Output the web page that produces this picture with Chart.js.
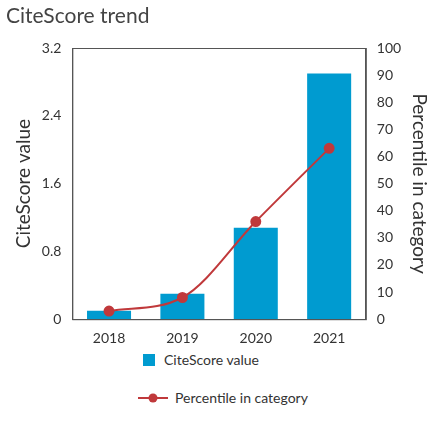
<!DOCTYPE html>
<html><head><meta charset="utf-8">
<script src="https://cdn.jsdelivr.net/npm/chart.js@4"></script>
<style>
body{margin:0;background:#fff;font-family:Lato,"Open Sans",sans-serif;color:#333;}
#wrap{position:relative;width:439px;height:429px;}
#title{position:absolute;left:6px;top:2px;font-size:21px;color:#444;}
#cv{position:absolute;left:0;top:0;}
.leg{position:absolute;font-size:14px;color:#333;display:flex;align-items:center;}
</style></head><body>
<div id="wrap">
<canvas id="cv" width="439" height="350"></canvas>
<div id="title">CiteScore trend</div>
<div class="leg" style="left:143px;top:351px;"><span style="display:inline-block;width:12px;height:12px;background:#009bd0;margin-right:9px"></span>CiteScore value</div>
<div class="leg" style="left:138px;top:389px;"><svg width="30" height="12" style="margin-right:7px"><line x1="0" y1="6" x2="30" y2="6" stroke="#c0393b" stroke-width="2"/><circle cx="15" cy="6" r="4.5" fill="#c0393b"/></svg>Percentile in category</div>
</div>
<script>
const years=["2018","2019","2020","2021"];
const citescore=[0.1,0.3,1.08,2.9];
const percentile=[3,8,36,63];
const leftTicks=[0,0.8,1.6,2.4,3.2];
const frame={id:'frame',afterDraw(c){const a=c.chartArea,x=c.ctx;x.save();x.strokeStyle='#555';x.lineWidth=1;x.strokeRect(a.left+0.5,a.top+0.5,a.right-a.left,a.bottom-a.top);x.restore();}};
new Chart(document.getElementById('cv'),{
data:{labels:years,datasets:[
{type:'line',data:percentile,yAxisID:'y2',borderColor:'#c0393b',backgroundColor:'#c0393b',borderWidth:2,pointRadius:4.5,cubicInterpolationMode:'monotone',order:0},
{type:'bar',data:citescore,yAxisID:'y',backgroundColor:'#009bd0',categoryPercentage:0.6,barPercentage:1,order:1}
]},
options:{responsive:false,animation:false,layout:{padding:{top:48,left:8,right:4}},
plugins:{legend:{display:false},tooltip:{enabled:false}},
scales:{
x:{grid:{display:false},border:{color:'#555'},ticks:{color:'#333',font:{family:'Lato',size:14}}},
y:{min:0,max:3.2,afterBuildTicks(s){s.ticks=leftTicks.map(v=>({value:v}));},grid:{display:false},border:{color:'#555'},
ticks:{color:'#333',font:{family:'Lato',size:14},callback:v=>String(v)},
title:{display:true,text:'CiteScore value',color:'#333',font:{family:'Lato',size:19}}},
y2:{position:'right',min:0,max:100,grid:{display:false},border:{color:'#555'},ticks:{stepSize:10,color:'#333',font:{family:'Lato',size:14}},
title:{display:true,text:'Percentile in category',color:'#333',font:{family:'Lato',size:19}}}
}},plugins:[frame]});
</script></body></html>
